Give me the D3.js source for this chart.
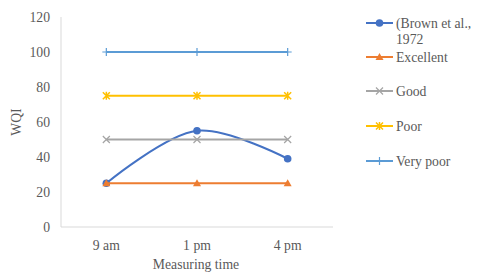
<!DOCTYPE html>
<html>
<head>
<meta charset="utf-8">
<script src="https://cdn.jsdelivr.net/npm/d3@7/dist/d3.min.js"></script>
<style>
  body { margin: 0; background: #fff; }
  text { font-family: "Liberation Serif", "Times New Roman", serif; fill: #595959; }
</style>
</head>
<body>
<div id="chart-area"></div>
<script>
const times = ["9 am", "1 pm", "4 pm"];
const yTicks = [0, 20, 40, 60, 80, 100, 120];

const brown = [25, 55, 39];
const excellent = [25, 25, 25];
const good = [50, 50, 50];
const poor = [75, 75, 75];
const veryPoor = [100, 100, 100];

const seriesNames = ["(Brown et al.,|1972", "Excellent", "Good", "Poor", "Very poor"];

const series = [
    { name: seriesNames[0], values: brown, color: "#4472C4", marker: "circle", smooth: true },
    { name: seriesNames[1], values: excellent, color: "#ED7D31", marker: "triangle" },
    { name: seriesNames[2], values: good, color: "#A5A5A5", marker: "x" },
    { name: seriesNames[3], values: poor, color: "#FFC000", marker: "star" },
    { name: seriesNames[4], values: veryPoor, color: "#5B9BD5", marker: "plus" }
];

const fontSize = 13.7;

const svg = d3.select("#chart-area").append("svg")
    .attr("width", 480)
    .attr("height", 275)

const x = d3.scaleBand()
    .domain(times)
    .range([61, 333]);

const y = d3.scaleLinear()
    .domain([0, 120])
    .range([227, 17]);

// axes
svg.append("line")
    .attr("x1", 61).attr("x2", 61)
    .attr("y1", y(120)).attr("y2", y(0))
    .attr("stroke", "#D9D9D9");
svg.append("line")
    .attr("x1", 61).attr("x2", 333)
    .attr("y1", y(0)).attr("y2", y(0))
    .attr("stroke", "#D9D9D9");

svg.selectAll(".ytick").data(yTicks).enter()
    .append("text")
    .attr("class", "ytick")
    .attr("x", 50)
    .attr("y", (d) => y(d))
    .attr("dy", "0.35em")
    .attr("text-anchor", "end")
    .attr("font-size", fontSize)
    .text((d) => d);

svg.selectAll(".xtick").data(times).enter()
    .append("text")
    .attr("class", "xtick")
    .attr("x", (d) => x(d) + x.bandwidth() / 2)
    .attr("y", 245)
    .attr("dy", "0.35em")
    .attr("text-anchor", "middle")
    .attr("font-size", fontSize)
    .text((d) => d);

svg.append("text")
    .attr("x", 196)
    .attr("y", 264)
    .attr("dy", "0.35em")
    .attr("text-anchor", "middle")
    .attr("font-size", fontSize)
    .text("Measuring time");

svg.append("text")
    .attr("transform", "translate(16," + y(60) + ") rotate(-90)")
    .attr("dy", "0.35em")
    .attr("text-anchor", "middle")
    .attr("font-size", fontSize)
    .text("WQI");

function drawMarker(g, type, cx, cy, color) {
    if (type === "circle") {
        g.append("circle").attr("cx", cx).attr("cy", cy).attr("r", 3.8).attr("fill", color);
    } else if (type === "triangle") {
        g.append("path")
            .attr("d", `M${cx},${cy - 4}L${cx + 4},${cy + 3}L${cx - 4},${cy + 3}Z`)
            .attr("fill", color);
    } else if (type === "x") {
        g.append("path")
            .attr("d", `M${cx - 3.5},${cy - 3.5}L${cx + 3.5},${cy + 3.5}M${cx - 3.5},${cy + 3.5}L${cx + 3.5},${cy - 3.5}`)
            .attr("stroke", color).attr("stroke-width", 1.2);
    } else if (type === "star") {
        g.append("path")
            .attr("d", `M${cx - 3.5},${cy - 3.5}L${cx + 3.5},${cy + 3.5}M${cx - 3.5},${cy + 3.5}L${cx + 3.5},${cy - 3.5}M${cx},${cy - 4}L${cx},${cy + 4}`)
            .attr("stroke", color).attr("stroke-width", 1.5);
    } else if (type === "plus") {
        g.append("path")
            .attr("d", `M${cx - 4},${cy}L${cx + 4},${cy}M${cx},${cy - 4}L${cx},${cy + 4}`)
            .attr("stroke", color).attr("stroke-width", 1.2);
    }
}

series.forEach((s) => {
    const g = svg.append("g");
    const line = d3.line()
        .x((d, i) => x(times[i]) + x.bandwidth() / 2)
        .y((d) => y(d))
        .curve(s.smooth ? d3.curveCatmullRom.alpha(0.5) : d3.curveLinear);
    g.append("path")
        .attr("d", line(s.values))
        .attr("fill", "none")
        .attr("stroke", s.color)
        .attr("stroke-width", 2);
    s.values.forEach((v, i) => {
        drawMarker(g, s.marker, x(times[i]) + x.bandwidth() / 2, y(v), s.color);
    });
});

// legend
const legendY = [23, 57, 91, 126, 161];
series.forEach((s, i) => {
    const g = svg.append("g");
    g.append("line")
        .attr("x1", 366).attr("x2", 393)
        .attr("y1", legendY[i]).attr("y2", legendY[i])
        .attr("stroke", s.color).attr("stroke-width", 2);
    drawMarker(g, s.marker, 379.5, legendY[i], s.color);
    const t = g.append("text")
        .attr("x", 396)
        .attr("y", legendY[i])
        .attr("font-size", fontSize);
    s.name.split("|").forEach((part, j) => {
        t.append("tspan")
            .attr("x", 396)
            .attr("dy", j === 0 ? "0.35em" : "1.2em")
            .text(part);
    });
});
</script>
</body>
</html>
